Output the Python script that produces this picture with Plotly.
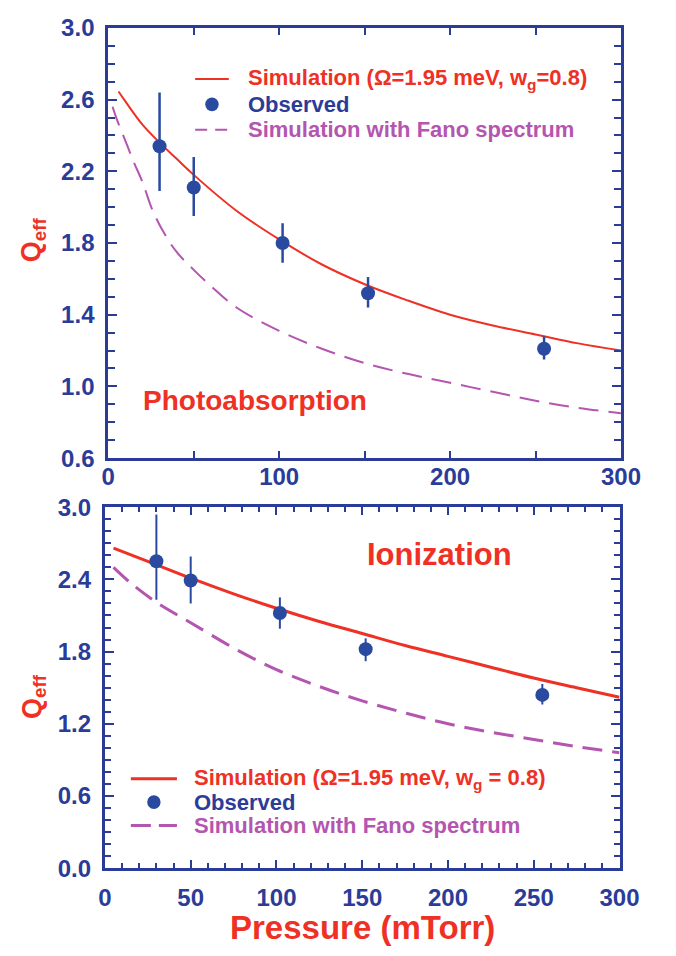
import plotly.graph_objects as go

# ---------------- data ----------------
pressure_obs = [30, 50, 102, 152, 255]

# Photoabsorption panel
photo_obs = [2.34, 2.11, 1.80, 1.52, 1.21]
photo_hi = [2.64, 2.28, 1.91, 1.61, 1.28]
photo_lo = [2.09, 1.95, 1.69, 1.44, 1.15]

photo_sim_p = [6, 10, 20, 30, 40, 50, 75, 100, 125, 150, 175, 200, 225, 250, 275, 300]
photo_sim_q = [2.645, 2.59, 2.46, 2.36, 2.27, 2.18, 1.98, 1.82, 1.68, 1.57, 1.48, 1.40, 1.34, 1.29, 1.24, 1.20]

photo_fano_p = [2.5, 5, 10, 15, 20, 26, 33, 40, 50, 60, 75, 100, 125, 150, 175, 200, 225, 250, 275, 300]
photo_fano_q = [2.56, 2.49, 2.37, 2.25, 2.14, 1.98, 1.85, 1.75, 1.65, 1.56, 1.44, 1.31, 1.21, 1.13, 1.07, 1.02, 0.97, 0.92, 0.88, 0.85]

# Ionization panel
ion_obs = [2.55, 2.39, 2.12, 1.82, 1.44]
ion_hi = [2.94, 2.59, 2.25, 1.91, 1.53]
ion_lo = [2.23, 2.20, 1.99, 1.72, 1.36]

ion_sim_p = [5, 25, 50, 75, 100, 125, 150, 175, 200, 225, 250, 275, 300]
ion_sim_q = [2.66, 2.55, 2.41, 2.28, 2.16, 2.05, 1.95, 1.85, 1.76, 1.67, 1.58, 1.50, 1.42]

ion_fano_p = [5, 15, 30, 50, 75, 100, 125, 150, 175, 200, 225, 250, 275, 300]
ion_fano_q = [2.50, 2.37, 2.21, 2.04, 1.83, 1.65, 1.51, 1.39, 1.29, 1.20, 1.13, 1.07, 1.01, 0.96]

# legend labels
photo_labels = ["Simulation (Ω=1.95 meV, w<sub>g</sub>=0.8)", "Observed",
                "Simulation with Fano spectrum"]
ion_labels = ["Simulation (Ω=1.95 meV, w<sub>g</sub> = 0.8)", "Observed",
              "Simulation with Fano spectrum"]

# ---------------- style ----------------
W, H = 676, 956
BLUE = "#2b3c98"
DOT = "#2a4aa0"
RED = "#ee3124"
MAG = "#b455b0"
FONT = "Liberation Sans"


def fx(px):
    return px / W


def fy(py):
    return 1 - py / H


fig = go.Figure()

# top panel traces
fig.add_trace(go.Scatter(
    x=photo_sim_p, y=photo_sim_q, mode="lines", line=dict(color=RED, width=2, shape="spline"),
    xaxis="x", yaxis="y"))
fig.add_trace(go.Scatter(
    x=pressure_obs, y=photo_obs, mode="markers",
    marker=dict(color=DOT, size=14),
    error_y=dict(type="data", symmetric=False,
                 array=[h - v for h, v in zip(photo_hi, photo_obs)],
                 arrayminus=[v - l for v, l in zip(photo_obs, photo_lo)],
                 color=DOT, thickness=2.5, width=0),
    xaxis="x", yaxis="y"))
fig.add_trace(go.Scatter(
    x=photo_fano_p, y=photo_fano_q, mode="lines",
    line=dict(color=MAG, width=2, dash="20px,10px", shape="spline"),
    xaxis="x", yaxis="y"))

# bottom panel traces
fig.add_trace(go.Scatter(
    x=ion_sim_p, y=ion_sim_q, mode="lines", line=dict(color=RED, width=3, shape="spline"),
    xaxis="x2", yaxis="y2"))
fig.add_trace(go.Scatter(
    x=pressure_obs, y=ion_obs, mode="markers",
    marker=dict(color=DOT, size=14),
    error_y=dict(type="data", symmetric=False,
                 array=[h - v for h, v in zip(ion_hi, ion_obs)],
                 arrayminus=[v - l for v, l in zip(ion_obs, ion_lo)],
                 color=DOT, thickness=2, width=0),
    xaxis="x2", yaxis="y2"))
fig.add_trace(go.Scatter(
    x=ion_fano_p, y=ion_fano_q, mode="lines",
    line=dict(color=MAG, width=3, dash="20px,10px", shape="spline"),
    xaxis="x2", yaxis="y2"))


def axis_style(rng, dtick, tick0, minor, domain, anchor, ticklen=8, minorlen=5, standoff=6):
    return dict(
        range=rng, dtick=dtick, tick0=tick0, domain=domain, anchor=anchor,
        showline=True, linewidth=3, linecolor=BLUE, mirror="allticks",
        ticks="inside", ticklen=ticklen, tickwidth=2, tickcolor=BLUE,
        minor=dict(dtick=minor, tick0=tick0, ticks="inside", ticklen=minorlen,
                   tickwidth=2, tickcolor=BLUE, showgrid=False),
        showgrid=False, zeroline=False, ticklabelstandoff=standoff,
        tickfont=dict(family=FONT, size=24, color=BLUE, weight="bold"),
    )


fig.update_layout(
    width=W, height=H,
    margin=dict(l=0, r=0, t=0, b=0),
    paper_bgcolor="white", plot_bgcolor="white",
    showlegend=False,
    xaxis=axis_style([0, 300], 100, 0, 50, [fx(105.5), fx(639.5)], "y",
                     ticklen=7, minorlen=7, standoff=-5),
    yaxis=axis_style([0.6, 3.0], 0.4, 0.6, 0.1, [fy(457), fy(14.3)], "x",
                     ticklen=9, minorlen=7),
    xaxis2=axis_style([0, 300], 50, 0, 10, [fx(102), fx(638)], "y2",
                      ticklen=8, minorlen=5),
    yaxis2=axis_style([0, 3.0], 0.6, 0, 0.1, [fy(879), fy(507.5)], "x2",
                      ticklen=9, minorlen=6),
)

fig.update_xaxes(tickformat="d")
fig.update_yaxes(tickformat=".1f")


def add_legend(x_line0, x_line1, x_text, rows, labels, lw, dash):
    """Key drawn in pixel space: line sample, dot sample, dashed sample, then labels."""
    colors = [RED, BLUE, MAG]
    fig.add_shape(type="line", xref="paper", yref="paper",
                  x0=fx(x_line0), x1=fx(x_line1), y0=fy(rows[0]), y1=fy(rows[0]),
                  line=dict(color=RED, width=lw))
    xc = (x_line0 + x_line1) / 2
    r = 7
    fig.add_shape(type="circle", xref="paper", yref="paper",
                  x0=fx(xc - r), x1=fx(xc + r), y0=fy(rows[1] + r), y1=fy(rows[1] - r),
                  fillcolor=DOT, line=dict(color=DOT, width=0))
    fig.add_shape(type="line", xref="paper", yref="paper",
                  x0=fx(x_line0), x1=fx(x_line1), y0=fy(rows[2]), y1=fy(rows[2]),
                  line=dict(color=MAG, width=lw, dash=dash))
    for lab, col, yy in zip(labels, colors, rows):
        fig.add_annotation(text=lab, x=fx(x_text), y=fy(yy), xref="paper", yref="paper",
                           xanchor="left", yanchor="middle", showarrow=False,
                           font=dict(family=FONT, size=22, color=col, weight="bold"))


add_legend(196, 231, 249, [67, 93, 119], photo_labels, 2, "12px,8px")
add_legend(129, 177, 193, [787, 811, 835], ion_labels, 3, "20px,8px")

annots = [
    dict(text="Photoabsorption", x=fx(258), y=fy(398), size=28),
    dict(text="Ionization", x=fx(450), y=fy(556), size=31),
    dict(text="Pressure (mTorr)", x=fx(370), y=fy(940), size=33),
]
for a in annots:
    fig.add_annotation(text=a["text"], x=a["x"], y=a["y"], xref="paper", yref="paper",
                       xanchor="center", yanchor="middle", showarrow=False,
                       font=dict(family=FONT, size=a["size"], color=RED, weight="bold"))

for ypix in (232, 702):
    fig.add_annotation(text="Q<sub>eff</sub>", x=fx(28), y=fy(ypix), xref="paper", yref="paper",
                       xanchor="center", yanchor="middle", showarrow=False, textangle=-90,
                       font=dict(family=FONT, size=27, color=RED, weight="bold"))

fig.write_html("out.html")
